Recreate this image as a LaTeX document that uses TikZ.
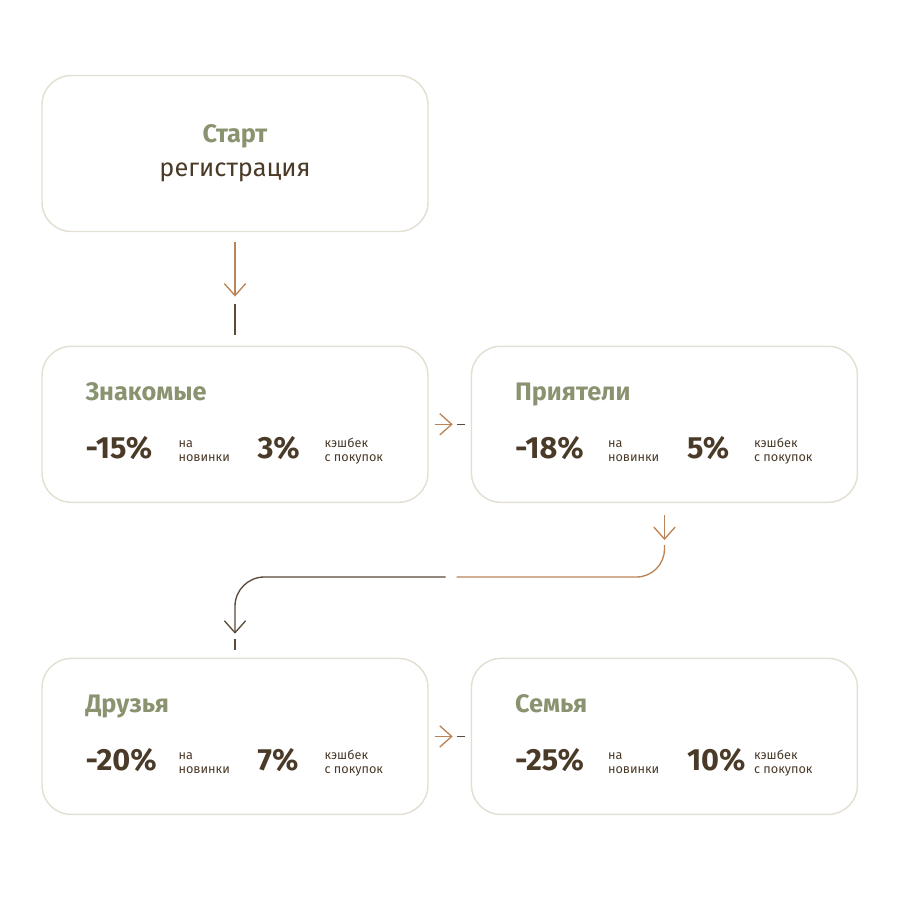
\documentclass[tikz,border=0pt]{standalone}
\usepackage{fontspec}
\setmainfont{Fira Sans}
\usetikzlibrary{positioning,calc,arrows.meta}
\definecolor{frame}{HTML}{E3DFD2}
\definecolor{sage}{HTML}{899370}
\definecolor{bark}{HTML}{4A3A28}
\definecolor{copper}{HTML}{BA8458}
\definecolor{umber}{HTML}{5A4A3A}

\begin{document}
\begin{tikzpicture}[
    x=0.75pt, y=-0.75pt,
    node distance=85pt and 31.5pt,
    tier/.style={rectangle, draw=frame, line width=1.1pt, rounded corners=22pt, minimum width=289.5pt, minimum height=117pt, inner sep=0pt},
    title/.style={anchor=base west, inner sep=0pt, text=sage, font=\fontsize{19}{21}\selectfont\bfseries},
    big/.style={anchor=base west, inner sep=0pt, text=bark, font=\fontsize{23}{26}\selectfont\bfseries},
    small/.style={anchor=base west, inner sep=0pt, align=left, text=bark, font=\fontsize{9.5}{10.8}\selectfont},
    light/.style={anchor=base, inner sep=0pt, text=bark, font=\fontsize{19}{21}\selectfont},
    cu/.style={-{Straight Barb[length=9pt, width=16pt]}, copper, line width=1pt},
    dk/.style={umber, line width=1pt}
]
    \useasboundingbox (0,0) rectangle (900,899);

    \node[tier] (start) at (235,153.5) {};
    \node[tier, below=of start] (zn) {};
    \node[tier, right=of zn] (pr) {};
    \node[tier, below=116pt of zn] (dr) {};
    \node[tier, right=of dr] (se) {};

    \node[title, anchor=base] (start-t) at ($(start.north)+(0,68)$) {Старт};
    \node[light] (start-s) at ($(start.north)+(0,102)$) {регистрация};

    \foreach \b/\nm/\dv/\cv in {zn/Знакомые/-15/3, pr/Приятели/-18/5, dr/Друзья/-20/7, se/Семья/-25/10} {
        \node[title] (\b-t) at ($(\b.north west)+(44,55)$) {\nm};
        \node[big] (\b-d) at ($(\b.north west)+(44,113)$) {\dv\%};
        \node[small] (\b-dn) at ($(\b.north west)+(137,116)$) {на\\новинки};
        \node[big] (\b-c) at ($(\b.north west)+(216,113)$) {\cv\%};
        \node[small] (\b-cn) at ($(\b.north west)+(283,116)$) {кэшбек\\с покупок};
    }

    % start -> first tier
    \draw[cu] ($(start.south)+(0,10)$) -- ($(zn.north)+(0,-49)$);
    \draw[dk] ($(zn.north)+(0,-42)$) -- ($(zn.north)+(0,-11)$);

    % sideways steps
    \foreach \a/\c in {zn/pr, dr/se} {
        \draw[cu] ($(\a.east)+(6,0)$) -- ($(\c.west)+(-18,0)$);
        \draw[dk] ($(\c.west)+(-14,0)$) -- ($(\c.west)+(-6,0)$);
    }

    % second row -> third row
    \coordinate (turn) at (450.5,577);
    \draw[cu] ($(pr.south)+(0,12)$) -- ($(pr.south)+(0,37)$);
    \draw[copper, line width=1pt, rounded corners=21pt] ($(pr.south)+(0,42)$) |- ($(turn)+(6,0)$);
    \draw[dk, -{Straight Barb[length=9pt, width=16pt]}, rounded corners=22pt] ($(turn)+(-5,0)$) -| ($(dr.north)+(0,-24)$);
    \draw[dk] ($(dr.north)+(0,-19)$) -- ($(dr.north)+(0,-8)$);
\end{tikzpicture}
\end{document}
